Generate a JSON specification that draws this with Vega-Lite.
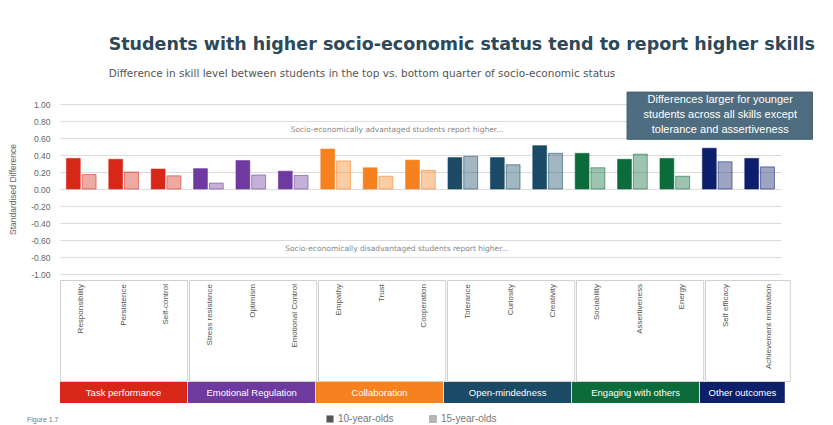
{
  "$schema": "https://vega.github.io/schema/vega-lite/v6.json",
  "background": "white",
  "padding": {"left": 8, "top": 35, "right": 10, "bottom": 2},
  "title": {
    "text": "Students with higher socio-economic status tend to report higher skills",
    "subtitle": "Difference in skill level between students in the top vs. bottom quarter of socio-economic status",
    "anchor": "start", "dx": 100, "fontSize": 17.5, "font": "DejaVu Sans", "fontWeight": "bold", "color": "#2d4859",
    "subtitleFontSize": 10.5, "subtitleColor": "#555", "subtitleFont": "DejaVu Sans", "subtitlePadding": 16, "offset": 12
  },
  "config": {"view": {"stroke": null}, "font": "Liberation Sans"},
  "data": {"values": [
    {"group": "Task performance", "skill": "Responsibility", "age": "10-year-olds", "value": 0.36},
    {"group": "Task performance", "skill": "Responsibility", "age": "15-year-olds", "value": 0.17},
    {"group": "Task performance", "skill": "Persistence", "age": "10-year-olds", "value": 0.35},
    {"group": "Task performance", "skill": "Persistence", "age": "15-year-olds", "value": 0.20},
    {"group": "Task performance", "skill": "Self-control", "age": "10-year-olds", "value": 0.235},
    {"group": "Task performance", "skill": "Self-control", "age": "15-year-olds", "value": 0.155},
    {"group": "Emotional Regulation", "skill": "Stress resistance", "age": "10-year-olds", "value": 0.24},
    {"group": "Emotional Regulation", "skill": "Stress resistance", "age": "15-year-olds", "value": 0.07},
    {"group": "Emotional Regulation", "skill": "Optimism", "age": "10-year-olds", "value": 0.335},
    {"group": "Emotional Regulation", "skill": "Optimism", "age": "15-year-olds", "value": 0.165},
    {"group": "Emotional Regulation", "skill": "Emotional Control", "age": "10-year-olds", "value": 0.21},
    {"group": "Emotional Regulation", "skill": "Emotional Control", "age": "15-year-olds", "value": 0.16},
    {"group": "Collaboration", "skill": "Empathy", "age": "10-year-olds", "value": 0.47},
    {"group": "Collaboration", "skill": "Empathy", "age": "15-year-olds", "value": 0.33},
    {"group": "Collaboration", "skill": "Trust", "age": "10-year-olds", "value": 0.25},
    {"group": "Collaboration", "skill": "Trust", "age": "15-year-olds", "value": 0.15},
    {"group": "Collaboration", "skill": "Cooperation", "age": "10-year-olds", "value": 0.34},
    {"group": "Collaboration", "skill": "Cooperation", "age": "15-year-olds", "value": 0.22},
    {"group": "Open-mindedness", "skill": "Tolerance", "age": "10-year-olds", "value": 0.37},
    {"group": "Open-mindedness", "skill": "Tolerance", "age": "15-year-olds", "value": 0.385},
    {"group": "Open-mindedness", "skill": "Curiosity", "age": "10-year-olds", "value": 0.37},
    {"group": "Open-mindedness", "skill": "Curiosity", "age": "15-year-olds", "value": 0.285},
    {"group": "Open-mindedness", "skill": "Creativity", "age": "10-year-olds", "value": 0.51},
    {"group": "Open-mindedness", "skill": "Creativity", "age": "15-year-olds", "value": 0.42},
    {"group": "Engaging with others", "skill": "Sociability", "age": "10-year-olds", "value": 0.42},
    {"group": "Engaging with others", "skill": "Sociability", "age": "15-year-olds", "value": 0.25},
    {"group": "Engaging with others", "skill": "Assertiveness", "age": "10-year-olds", "value": 0.35},
    {"group": "Engaging with others", "skill": "Assertiveness", "age": "15-year-olds", "value": 0.41},
    {"group": "Engaging with others", "skill": "Energy", "age": "10-year-olds", "value": 0.36},
    {"group": "Engaging with others", "skill": "Energy", "age": "15-year-olds", "value": 0.15},
    {"group": "Other outcomes", "skill": "Self efficacy", "age": "10-year-olds", "value": 0.48},
    {"group": "Other outcomes", "skill": "Self efficacy", "age": "15-year-olds", "value": 0.32},
    {"group": "Other outcomes", "skill": "Achievement motivation", "age": "10-year-olds", "value": 0.36},
    {"group": "Other outcomes", "skill": "Achievement motivation", "age": "15-year-olds", "value": 0.26}
  ]},
  "spacing": 0,
  "vconcat": [
    {
      "width": 720.8,
      "height": 170,
      "encoding": {
        "x": {"field": "skill", "type": "nominal", "sort": ["Responsibility","Persistence","Self-control","Stress resistance","Optimism","Emotional Control","Empathy","Trust","Cooperation","Tolerance","Curiosity","Creativity","Sociability","Assertiveness","Energy","Self efficacy","Achievement motivation"], "scale": {"domain": ["Responsibility","Persistence","Self-control","Stress resistance","Optimism","Emotional Control","Empathy","Trust","Cooperation","Tolerance","Curiosity","Creativity","Sociability","Assertiveness","Energy","Self efficacy","Achievement motivation"], "paddingInner": 0.3, "paddingOuter": 0.15}, "axis": null}
      },
      "layer": [
        {
          "mark": {"type": "bar", "strokeWidth": 0.8, "strokeOpacity": 0.7},
          "encoding": {
            "xOffset": {"field": "age", "type": "nominal", "sort": ["10-year-olds","15-year-olds"], "scale": {"paddingInner": 0.12}},
            "y": {"field": "value", "type": "quantitative", "scale": {"domain": [-1, 1], "nice": false, "zero": true},
              "axis": {"values": [-1,-0.8,-0.6,-0.4,-0.2,0,0.2,0.4,0.6,0.8,1], "tickCount": 12, "labelExpr": "replace(format(datum.value,'.2f'),'\u2212','-')", "labelOverlap": false, "title": "Standardised Difference", "titleFontSize": 8.5, "titleFontWeight": "normal", "titleColor": "#666", "labelColor": "#666", "labelFontSize": 8.5, "domain": false, "ticks": false, "gridColor": "#dcdcdc", "labelPadding": 10, "titlePadding": 13}},
            "fill": {"field": "group", "type": "nominal", "scale": {"domain": ["Task performance","Emotional Regulation","Collaboration","Open-mindedness","Engaging with others","Other outcomes"], "range": ["#d62718","#6e3aa0","#f5821f","#1a4a66","#0b6b3a","#0c1f6b"]}, "legend": null},
            "stroke": {"field": "group", "type": "nominal", "scale": {"domain": ["Task performance","Emotional Regulation","Collaboration","Open-mindedness","Engaging with others","Other outcomes"], "range": ["#d62718","#6e3aa0","#f5821f","#1a4a66","#0b6b3a","#0c1f6b"]}, "legend": null},
            "fillOpacity": {"field": "age", "type": "nominal", "scale": {"domain": ["10-year-olds","15-year-olds"], "range": [1, 0.4]}, "legend": null}
          }
        },
        {
          "mark": {"type": "point", "shape": "square", "filled": true, "opacity": 0},
          "encoding": {
            "y": {"field": "value", "type": "quantitative"},
            "color": {"field": "age", "type": "nominal", "scale": {"domain": ["10-year-olds","15-year-olds"], "range": ["#555555","#b9b9b9"]},
              "legend": {"title": null, "orient": "none", "legendX": 265, "legendY": 310, "direction": "horizontal", "symbolType": "square", "symbolOpacity": 1, "symbolSize": 45, "symbolStrokeColor": "#777", "symbolStrokeWidth": 0.5, "labelFontSize": 10, "labelColor": "#777", "columnPadding": 34, "labelOffset": 3}}
          }
        },
        {
          "data": {"values": [
            {"label": "Socio-economically advantaged students report higher...", "v": 0.69},
            {"label": "Socio-economically disadvantaged students report higher...", "v": -0.705}
          ]},
          "mark": {"type": "text", "fontSize": 7.5, "font": "DejaVu Sans", "color": "#888", "dx": 19, "baseline": "middle"},
          "encoding": {
            "x": {"datum": "Trust"},
            "y": {"field": "v", "type": "quantitative"},
            "text": {"field": "label"}
          }
        },
        {
          "data": {"values": [{"note": "Differences larger for younger\nstudents across all skills except\ntolerance and assertiveness"}]},
          "layer": [
            {
              "mark": {"type": "rect", "color": "#4f6d80", "stroke": "#3f5a6b", "strokeWidth": 1, "x2Offset": 38},
              "encoding": {
                "x": {"datum": "Assertiveness", "bandPosition": 0.32},
                "x2": {"datum": "Achievement motivation", "bandPosition": 1},
                "y": {"datum": 1.14},
                "y2": {"datum": 0.585}
              }
            },
            {
              "mark": {"type": "text", "color": "white", "fontSize": 11, "lineBreak": "\n", "lineHeight": 15, "align": "center", "baseline": "middle", "dx": 3},
              "encoding": {
                "x": {"datum": "Self efficacy"},
                "y": {"datum": 1.043},
                "text": {"field": "note"}
              }
            }
          ]
        }
      ]
    },
    {
      "spacing": 0,
      "hconcat": [
        {"width": 127.2, "height": 101, "view": {"stroke": "#d0d0d0"}, "transform": [{"filter": "datum.group == 'Task performance' && datum.age == '10-year-olds'"}],
         "mark": {"type": "text", "angle": -90, "align": "right", "baseline": "middle", "fontSize": 8, "color": "#555"},
         "encoding": {"x": {"field": "skill", "type": "nominal", "sort": null, "scale": {"paddingInner": 0.3, "paddingOuter": 0.15}, "axis": null}, "y": {"datum": 0.96, "type": "quantitative", "scale": {"domain": [0, 1]}, "axis": null}, "text": {"field": "skill"}}},
        {"width": 127.2, "height": 101, "view": {"stroke": "#d0d0d0"}, "transform": [{"filter": "datum.group == 'Emotional Regulation' && datum.age == '10-year-olds'"}],
         "mark": {"type": "text", "angle": -90, "align": "right", "baseline": "middle", "fontSize": 8, "color": "#555"},
         "encoding": {"x": {"field": "skill", "type": "nominal", "sort": null, "scale": {"paddingInner": 0.3, "paddingOuter": 0.15}, "axis": null}, "y": {"datum": 0.96, "type": "quantitative", "scale": {"domain": [0, 1]}, "axis": null}, "text": {"field": "skill"}}},
        {"width": 127.2, "height": 101, "view": {"stroke": "#d0d0d0"}, "transform": [{"filter": "datum.group == 'Collaboration' && datum.age == '10-year-olds'"}],
         "mark": {"type": "text", "angle": -90, "align": "right", "baseline": "middle", "fontSize": 8, "color": "#555"},
         "encoding": {"x": {"field": "skill", "type": "nominal", "sort": null, "scale": {"paddingInner": 0.3, "paddingOuter": 0.15}, "axis": null}, "y": {"datum": 0.96, "type": "quantitative", "scale": {"domain": [0, 1]}, "axis": null}, "text": {"field": "skill"}}},
        {"width": 127.2, "height": 101, "view": {"stroke": "#d0d0d0"}, "transform": [{"filter": "datum.group == 'Open-mindedness' && datum.age == '10-year-olds'"}],
         "mark": {"type": "text", "angle": -90, "align": "right", "baseline": "middle", "fontSize": 8, "color": "#555"},
         "encoding": {"x": {"field": "skill", "type": "nominal", "sort": null, "scale": {"paddingInner": 0.3, "paddingOuter": 0.15}, "axis": null}, "y": {"datum": 0.96, "type": "quantitative", "scale": {"domain": [0, 1]}, "axis": null}, "text": {"field": "skill"}}},
        {"width": 127.2, "height": 101, "view": {"stroke": "#d0d0d0"}, "transform": [{"filter": "datum.group == 'Engaging with others' && datum.age == '10-year-olds'"}],
         "mark": {"type": "text", "angle": -90, "align": "right", "baseline": "middle", "fontSize": 8, "color": "#555"},
         "encoding": {"x": {"field": "skill", "type": "nominal", "sort": null, "scale": {"paddingInner": 0.3, "paddingOuter": 0.15}, "axis": null}, "y": {"datum": 0.96, "type": "quantitative", "scale": {"domain": [0, 1]}, "axis": null}, "text": {"field": "skill"}}},
        {"width": 84.8, "height": 101, "view": {"stroke": "#d0d0d0"}, "transform": [{"filter": "datum.group == 'Other outcomes' && datum.age == '10-year-olds'"}],
         "mark": {"type": "text", "angle": -90, "align": "right", "baseline": "middle", "fontSize": 8, "color": "#555"},
         "encoding": {"x": {"field": "skill", "type": "nominal", "sort": null, "scale": {"paddingInner": 0.3, "paddingOuter": 0.15}, "axis": null}, "y": {"datum": 0.96, "type": "quantitative", "scale": {"domain": [0, 1]}, "axis": null}, "text": {"field": "skill"}}}
      ]
    },
    {
      "spacing": 0,
      "hconcat": [
        {"width": 127.2, "height": 21, "transform": [{"filter": "datum.group == 'Task performance'"}, {"aggregate": [{"op": "count", "as": "n"}], "groupby": ["group"]}],
         "title": {"text": "Figure 1.7", "orient": "bottom", "anchor": "start", "dx": -33, "fontSize": 7, "fontWeight": "normal", "color": "#777", "offset": 13},
         "layer": [{"mark": {"type": "rect", "color": "#d62718"}, "encoding": {}}, {"mark": {"type": "text", "color": "white", "fontSize": 9.5}, "encoding": {"text": {"field": "group"}}}]},
        {"width": 127.2, "height": 21, "transform": [{"filter": "datum.group == 'Emotional Regulation'"}, {"aggregate": [{"op": "count", "as": "n"}], "groupby": ["group"]}],
         "layer": [{"mark": {"type": "rect", "color": "#6e3aa0"}, "encoding": {}}, {"mark": {"type": "text", "color": "white", "fontSize": 9.5}, "encoding": {"text": {"field": "group"}}}]},
        {"width": 127.2, "height": 21, "transform": [{"filter": "datum.group == 'Collaboration'"}, {"aggregate": [{"op": "count", "as": "n"}], "groupby": ["group"]}],
         "layer": [{"mark": {"type": "rect", "color": "#f5821f"}, "encoding": {}}, {"mark": {"type": "text", "color": "white", "fontSize": 9.5}, "encoding": {"text": {"field": "group"}}}]},
        {"width": 127.2, "height": 21, "transform": [{"filter": "datum.group == 'Open-mindedness'"}, {"aggregate": [{"op": "count", "as": "n"}], "groupby": ["group"]}],
         "layer": [{"mark": {"type": "rect", "color": "#1a4a66"}, "encoding": {}}, {"mark": {"type": "text", "color": "white", "fontSize": 9.5}, "encoding": {"text": {"field": "group"}}}]},
        {"width": 127.2, "height": 21, "transform": [{"filter": "datum.group == 'Engaging with others'"}, {"aggregate": [{"op": "count", "as": "n"}], "groupby": ["group"]}],
         "layer": [{"mark": {"type": "rect", "color": "#0b6b3a"}, "encoding": {}}, {"mark": {"type": "text", "color": "white", "fontSize": 9.5}, "encoding": {"text": {"field": "group"}}}]},
        {"width": 84.8, "height": 21, "transform": [{"filter": "datum.group == 'Other outcomes'"}, {"aggregate": [{"op": "count", "as": "n"}], "groupby": ["group"]}],
         "layer": [{"mark": {"type": "rect", "color": "#0c1f6b"}, "encoding": {}}, {"mark": {"type": "text", "color": "white", "fontSize": 9.5}, "encoding": {"text": {"field": "group"}}}]}
      ]
    }
  ]
}
